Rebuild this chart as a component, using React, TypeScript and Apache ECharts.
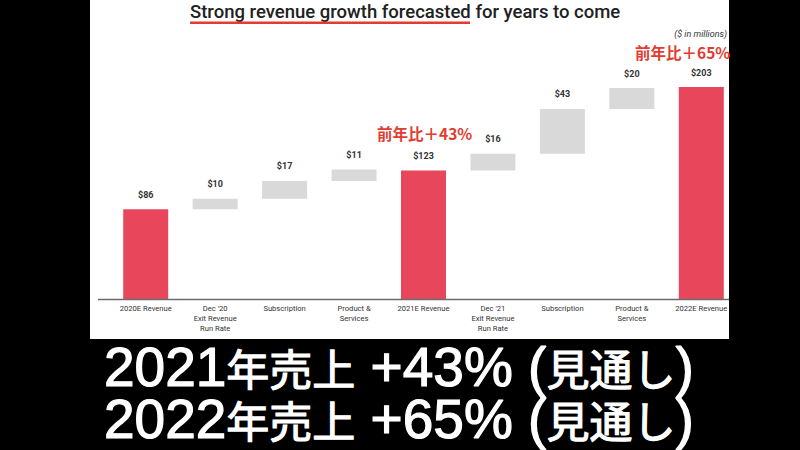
import React, { useEffect, useRef } from "react";
import * as echarts from "echarts";

const categories = [
  "2020E Revenue",
  "Dec '20\nExit Revenue\nRun Rate",
  "Subscription",
  "Product &\nServices",
  "2021E Revenue",
  "Dec '21\nExit Revenue\nRun Rate",
  "Subscription",
  "Product &\nServices",
  "2022E Revenue",
];
const values = [86, 10, 17, 11, 123, 16, 43, 20, 203];
const isTotal = [true, false, false, false, true, false, false, false, true];

const titleText = "Strong revenue growth forecasted for years to come";
const unitText = "($ in millions)";
const growth2021 = "前年比＋43%";
const growth2022 = "前年比＋65%";
const bottomLine1 = "{a|2021}{b|年売上}{a| +43% (}{b|見通し}{a|)}";
const bottomLine2 = "{a|2022}{b|年売上}{a| +65% (}{b|見通し}{a|)}";

export default function App() {
  const ref = useRef<HTMLDivElement>(null);
  useEffect(() => {
    document.body.style.margin = "0";
    if (!ref.current) return;
    const chart = echarts.init(ref.current, undefined, { renderer: "svg" });

    const bases: number[] = [];
    let running = 0;
    values.forEach((v, i) => {
      if (isTotal[i]) {
        bases.push(0);
        running = v;
      } else {
        bases.push(running);
        running += v;
      }
    });

    const RED = "#e8475b";
    const GRAY = "#d9d9d9";

    const bigRich = {
      a: {
        fontFamily: "'Liberation Sans', Arial, sans-serif",
        fontWeight: "normal",
        fontSize: 55,
        lineHeight: 52,
        fill: "#fff",
        stroke: "#fff",
        lineWidth: 1.2,
      },
      b: {
        fontFamily: "'Noto Sans CJK JP'",
        fontWeight: "normal",
        fontSize: 43,
        lineHeight: 52,
        fill: "#fff",
        stroke: "#fff",
        lineWidth: 1.2,
      },
    };

    chart.setOption({
      animation: false,
      backgroundColor: "#000",
      grid: { left: 111, right: 64, top: 87, bottom: 151, containLabel: false },
      xAxis: {
        type: "category",
        data: categories,
        axisLine: { show: false },
        axisTick: { show: false },
        axisLabel: {
          interval: 0,
          fontFamily: "Roboto",
          fontSize: 7.6,
          color: "#333",
          lineHeight: 10,
          margin: 4,
        },
      },
      yAxis: {
        type: "value",
        min: 0,
        max: 203,
        show: false,
        splitLine: { show: false },
      },
      series: [
        {
          type: "bar",
          stack: "w",
          data: bases,
          barWidth: 45,
          itemStyle: { color: "transparent" },
          silent: true,
        },
        {
          type: "bar",
          stack: "w",
          barWidth: 45,
          data: values.map((v, i) => ({
            value: v,
            itemStyle: { color: isTotal[i] ? RED : GRAY },
          })),
          label: {
            show: true,
            position: "top",
            distance: 10,
            formatter: (p: any) => "$" + p.value,
            fontFamily: "Roboto",
            fontWeight: "bold",
            fontSize: 9,
            color: "#333",
          },
        },
      ],
      graphic: [
        {
          type: "rect",
          z: -10,
          shape: { x: 90, y: 0, width: 639, height: 339 },
          style: { fill: "#fff" },
        },
        {
          type: "line",
          z: 100,
          shape: { x1: 98, y1: 299.5, x2: 729, y2: 299.5 },
          style: { stroke: "#6b6b6b", lineWidth: 1.5 },
        },
        {
          type: "text",
          x: 190,
          y: 12,
          style: {
            text: titleText,
            fontFamily: "Roboto",
            fontWeight: 500,
            fontSize: 18.5,
            fill: "#212121",
            verticalAlign: "middle",
          },
        },
        {
          type: "rect",
          shape: { x: 190, y: 21.5, width: 280, height: 2.5 },
          style: { fill: "#e53935" },
        },
        {
          type: "text",
          x: 727,
          y: 34,
          style: {
            text: unitText,
            fontFamily: "Roboto",
            fontStyle: "italic",
            fontSize: 9,
            fill: "#333",
            align: "right",
            verticalAlign: "middle",
          },
        },
        {
          type: "text",
          x: 377,
          y: 133,
          style: {
            text: growth2021,
            fontFamily: "Noto Sans CJK JP",
            fontWeight: "bold",
            fontSize: 15.5,
            fill: "#e33b2e",
            verticalAlign: "middle",
          },
        },
        {
          type: "text",
          x: 635,
          y: 52,
          style: {
            text: growth2022,
            fontFamily: "Noto Sans CJK JP",
            fontWeight: "bold",
            fontSize: 15.5,
            fill: "#e33b2e",
            verticalAlign: "middle",
          },
        },
        {
          type: "text",
          x: 104,
          y: 393,
          style: {
            text: bottomLine1 + "\n" + bottomLine2,
            rich: bigRich,
            fill: "#fff",
            verticalAlign: "middle",
          },
        },
      ],
    });
    return () => chart.dispose();
  }, []);
  return <div ref={ref} style={{ width: 800, height: 450 }} />;
}
